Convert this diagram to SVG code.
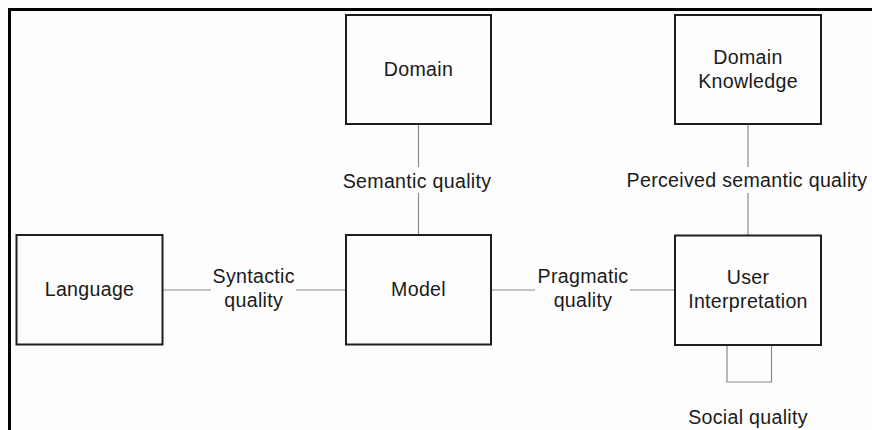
<svg xmlns="http://www.w3.org/2000/svg" width="872" height="430" viewBox="0 0 872 430">
<style>
.box{fill:#fdfdfd;stroke:#1e1e1e;stroke-width:2}
.conn{stroke:#8a8a8a;stroke-width:1.2;fill:none}
text{font-family:"Liberation Sans",Arial,sans-serif;font-size:19.6px;letter-spacing:0.3px;fill:#1a1a1a;text-anchor:middle}
</style>
<rect x="0" y="0" width="872" height="430" fill="#fdfdfd"/>
<g id="frame" stroke="#000" stroke-width="3" fill="none">
<line x1="8" y1="9.5" x2="872" y2="9.5"/>
<line x1="9.5" y1="8" x2="9.5" y2="430"/>
</g>
<g id="connectors">
<line class="conn" x1="163" y1="290" x2="211" y2="290"/>
<line class="conn" x1="296" y1="290" x2="345" y2="290"/>
<line class="conn" x1="492" y1="290" x2="535" y2="290"/>
<line class="conn" x1="630" y1="290" x2="674" y2="290"/>
<line class="conn" x1="418.5" y1="125" x2="418.5" y2="167"/>
<line class="conn" x1="418.5" y1="193" x2="418.5" y2="234"/>
<line class="conn" x1="748" y1="125" x2="748" y2="167"/>
<line class="conn" x1="748" y1="193" x2="748" y2="235"/>
<polyline class="conn" points="727,346 727,382 771.5,382 771.5,346"/>
<text x="253.7" y="283.3">Syntactic</text>
<text x="253.7" y="306.7">quality</text>
<text x="583" y="283.3">Pragmatic</text>
<text x="583" y="306.7">quality</text>
<text x="417" y="188">Semantic quality</text>
<text x="747" y="186.5">Perceived semantic quality</text>
<text x="748" y="424">Social quality</text>
</g>
<g id="domain">
<rect class="box" x="346" y="15" width="145" height="109"/>
<text x="418.5" y="76">Domain</text>
</g>
<g id="domain-knowledge">
<rect class="box" x="675" y="15" width="146" height="109"/>
<text x="748" y="64">Domain</text>
<text x="748" y="88">Knowledge</text>
</g>
<g id="language">
<rect class="box" x="16.5" y="235" width="146" height="109.5"/>
<text x="89.5" y="296">Language</text>
</g>
<g id="model">
<rect class="box" x="346" y="235" width="145" height="109.5"/>
<text x="418.5" y="296">Model</text>
</g>
<g id="user-interpretation">
<rect class="box" x="675" y="235.5" width="146" height="109.5"/>
<text x="748" y="284">User</text>
<text x="748" y="308.3">Interpretation</text>
</g>
</svg>
